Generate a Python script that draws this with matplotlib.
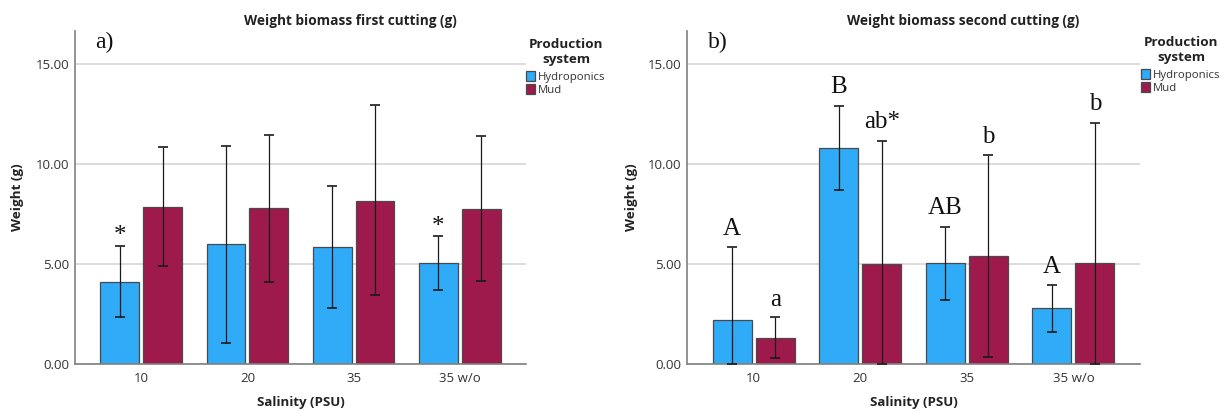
import matplotlib
matplotlib.use("Agg")
import matplotlib.pyplot as plt
import numpy as np

categories = ["10", "20", "35", "35 w/o"]
systems = ["Hydroponics", "Mud"]

# First cutting
first_hydro = [4.10, 5.98, 5.83, 5.05]
first_hydro_lo = [2.35, 1.05, 2.78, 3.70]
first_hydro_hi = [5.90, 10.92, 8.90, 6.40]
first_mud = [7.85, 7.80, 8.15, 7.75]
first_mud_lo = [4.90, 4.10, 3.43, 4.15]
first_mud_hi = [10.85, 11.45, 12.97, 11.40]
first_hydro_marks = ["*", "", "", "*"]
first_hydro_mark_y = [6.10, None, None, 6.55]
first_mud_marks = ["", "", "", ""]
first_mud_mark_y = [None, None, None, None]

# Second cutting
second_hydro = [2.20, 10.80, 5.05, 2.80]
second_hydro_lo = [0.02, 8.70, 3.20, 1.60]
second_hydro_hi = [5.87, 12.90, 6.85, 3.95]
second_mud = [1.30, 5.00, 5.42, 5.05]
second_mud_lo = [0.30, 0.02, 0.35, 0.02]
second_mud_hi = [2.35, 11.15, 10.45, 12.05]
second_hydro_marks = ["A", "B", "AB", "A"]
second_hydro_mark_y = [6.45, 13.55, 7.50, 4.55]
second_mud_marks = ["a", "ab*", "b", "b"]
second_mud_mark_y = [2.90, 11.80, 11.05, 12.70]

colors = ["#2FABF8", "#9E1A4C"]
W, H = 1219, 411

fig = plt.figure(figsize=(W / 100, H / 100), dpi=100)

def fx(px):
    return px / W

def fy(py):
    return 1 - py / H

panels = [
    dict(left=75, right=526, title="Weight biomass first cutting (g)", title_x=350, tag="a)", tag_x=95,
         hydro=(first_hydro, first_hydro_lo, first_hydro_hi, first_hydro_marks, first_hydro_mark_y),
         mud=(first_mud, first_mud_lo, first_mud_hi, first_mud_marks, first_mud_mark_y),
         ylab_x=18, leg_x=566, leg_y=38),
    dict(left=687, right=1140, title="Weight biomass second cutting (g)", title_x=963, tag="b)", tag_x=708,
         hydro=(second_hydro, second_hydro_lo, second_hydro_hi, second_hydro_marks, second_hydro_mark_y),
         mud=(second_mud, second_mud_lo, second_mud_hi, second_mud_marks, second_mud_mark_y),
         ylab_x=632, leg_x=1181, leg_y=36),
]

top_px, bot_px = 31, 364
sans = ["Open Sans", "DejaVu Sans"]
serif = ["Liberation Serif", "DejaVu Serif"]
bw = 0.367
off = 0.202

for p in panels:
    ax = fig.add_axes([fx(p["left"]), fy(bot_px), fx(p["right"] - p["left"]), (bot_px - top_px) / H])
    x = np.arange(len(categories))
    for k, (key, sgn) in enumerate([("hydro", -1), ("mud", 1)]):
        vals, lo, hi, marks, mark_y = p[key]
        vals = np.array(vals)
        yerr = [vals - np.array(lo), np.array(hi) - vals]
        xpos = x + sgn * off
        ax.bar(xpos, vals, width=bw, color=colors[k], edgecolor="#4a4a4a", linewidth=0.9,
               label=systems[k], zorder=2)
        ax.errorbar(xpos, vals, yerr=yerr, fmt="none", ecolor="#1a1a1a", elinewidth=0.9,
                    capsize=3.6, capthick=1.2, zorder=3)
        for xi, m, my in zip(xpos, marks, mark_y):
            if m:
                ax.text(xi, my, m, ha="center", va="baseline", fontsize=18,
                        family=serif, color="#111111", zorder=4)
    ax.set_xlim(-0.625, 3.625)
    ax.set_ylim(0, 16.65)
    ax.set_yticks([0, 5, 10, 15])
    ax.set_yticklabels(["0.00", "5.00", "10.00", "15.00"], fontsize=9.5, family=sans, color="#333333")
    ax.set_xticks(x)
    ax.set_xticklabels(categories, fontsize=9.5, family=sans, color="#333333")
    ax.tick_params(axis="both", length=0, pad=4)
    ax.tick_params(axis="x", pad=6)
    for s in ["top", "right"]:
        ax.spines[s].set_visible(False)
    for s in ["left", "bottom"]:
        ax.spines[s].set_color("#808080")
        ax.spines[s].set_linewidth(1.2)
    ax.yaxis.grid(True, color="#dcdcdc", linewidth=1.4, zorder=0)
    ax.set_axisbelow(True)
    # labels
    fig.text(fx(p["ylab_x"]), fy(197), "Weight (g)", rotation=90, ha="center", va="center",
             fontsize=9.7, fontweight="bold", family=sans, color="#222222")
    fig.text(fx((p["left"] + p["right"]) / 2), fy(402), "Salinity (PSU)", ha="center", va="center",
             fontsize=9.5, fontweight="bold", family=sans, color="#222222")
    fig.text(fx(p["title_x"]), fy(21), p["title"], ha="center", va="center",
             fontsize=9.8, fontweight="bold", family=sans, color="#222222")
    fig.text(fx(p["tag_x"]), fy(48), p["tag"], ha="left", va="baseline",
             fontsize=17, family=serif, color="#111111")
    leg = ax.legend(loc="upper center", bbox_to_anchor=(fx(p["leg_x"]), fy(p["leg_y"])),
                    bbox_transform=fig.transFigure, frameon=False,
                    title="Production\nsystem",
                    title_fontproperties=dict(family=sans, weight="bold", size=9.7),
                    prop=dict(family=sans, size=8.2),
                    handlelength=0.8, handleheight=0.9, handletextpad=0.25,
                    labelspacing=0.1, borderpad=0, borderaxespad=0)
    leg._legend_box.sep = 3.8
    leg.get_title().set_multialignment("center")
    leg.get_title().set_color("#222222")
    for t in leg.get_texts():
        t.set_color("#333333")

fig.savefig("out.png", dpi=100)
